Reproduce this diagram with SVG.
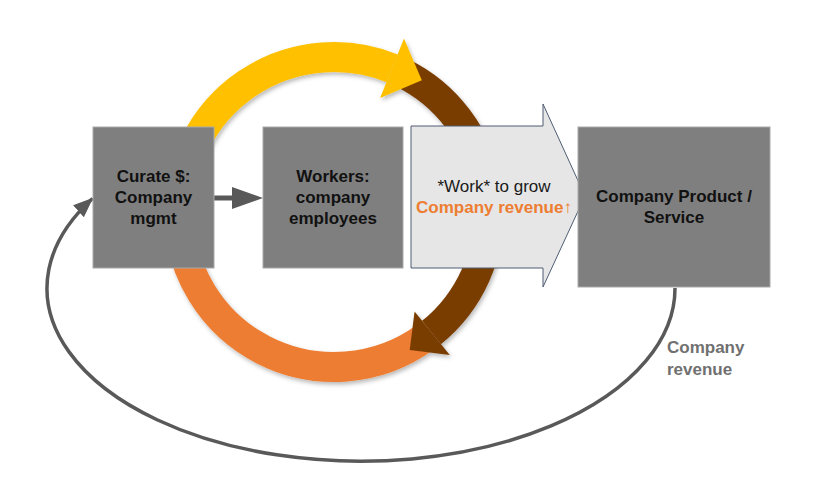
<svg xmlns="http://www.w3.org/2000/svg" width="818" height="477" viewBox="0 0 818 477">
  <defs>
    <style>
      .box { fill: #7f7f7f; stroke: #a9a9a9; stroke-width: 1; }
      .lbl { font-family: "Liberation Sans", Arial, sans-serif; font-size: 17px; font-weight: bold; fill: #111111; text-anchor: middle; }
      .ring { fill: none; stroke-width: 30; stroke-linecap: butt; }
      .conn { fill: none; stroke: #595959; }
    </style>
    <filter id="shadow" x="-10%" y="-10%" width="130%" height="130%">
      <feDropShadow dx="1.5" dy="2.5" stdDeviation="2" flood-color="#000000" flood-opacity="0.28"/>
    </filter>
    <marker id="arrowCurve" markerUnits="userSpaceOnUse" markerWidth="22" markerHeight="18" refX="19" refY="8" orient="auto">
      <path d="M0,0 L20,8 L0,16 Z" fill="#595959"/>
    </marker>
  </defs>
  <rect width="818" height="477" fill="#ffffff"/>

  <g id="cycle" filter="url(#shadow)">
    <path class="ring" stroke="#ed7d31" d="M 425.1 337.4 A 155 155 0 0 1 179 212"/>
    <path class="ring" stroke="#7a3d04" d="M 401.9 72.7 A 155 155 0 0 1 431.5 332.5"/>
    <polygon fill="#7a3d04" points="414.6,311.5 449.8,355.0 409.7,350.1"/>
    <path class="ring" stroke="#ffc000" d="M 179 212 A 155 155 0 0 1 392.1 68.3"/>
    <polygon fill="#ffc000" points="380.1,98.0 404.0,38.6 421.8,80.3"/>
  </g>

  <g id="connectors">
    <path class="conn" stroke-width="3.5" d="M 675 288 A 314 173 0 1 1 92.5 198.5" marker-end="url(#arrowCurve)"/>
    <line class="conn" stroke-width="5" x1="214" y1="198" x2="234" y2="198"/>
    <polygon fill="#595959" points="232,187 263,198 232,209"/>
  </g>

  <g id="node-curate">
    <rect class="box" x="93" y="127" width="121" height="141"/>
    <text class="lbl" x="153.5" y="182">Curate $:</text>
    <text class="lbl" x="153.5" y="203">Company</text>
    <text class="lbl" x="153.5" y="223.5">mgmt</text>
  </g>

  <g id="node-workers">
    <rect class="box" x="263" y="127" width="140" height="141"/>
    <text class="lbl" x="333" y="182">Workers:</text>
    <text class="lbl" x="333" y="203">company</text>
    <text class="lbl" x="333" y="223.5">employees</text>
  </g>

  <g id="node-work">
    <polygon points="411,126 543,126 543,104 585,196 543,287 543,268 411,268" fill="#e6e6e6" stroke="#4f5d73" stroke-width="1"/>
    <text x="494" y="192" font-family="Liberation Sans, Arial, sans-serif" font-size="17" fill="#1a1a1a" text-anchor="middle">*Work* to grow</text>
    <text x="494" y="213" font-family="Liberation Sans, Arial, sans-serif" font-size="17" font-weight="bold" fill="#ed7d31" text-anchor="middle">Company revenue↑</text>
  </g>

  <g id="node-product">
    <rect class="box" x="578" y="127" width="192" height="160"/>
    <text class="lbl" x="674" y="202">Company Product /</text>
    <text class="lbl" x="674" y="222.5">Service</text>
  </g>

  <g id="label-revenue">
    <text x="667" y="353" font-family="Liberation Sans, Arial, sans-serif" font-size="17" font-weight="bold" fill="#707070">Company</text>
    <text x="667" y="375" font-family="Liberation Sans, Arial, sans-serif" font-size="17" font-weight="bold" fill="#707070">revenue</text>
  </g>
</svg>
